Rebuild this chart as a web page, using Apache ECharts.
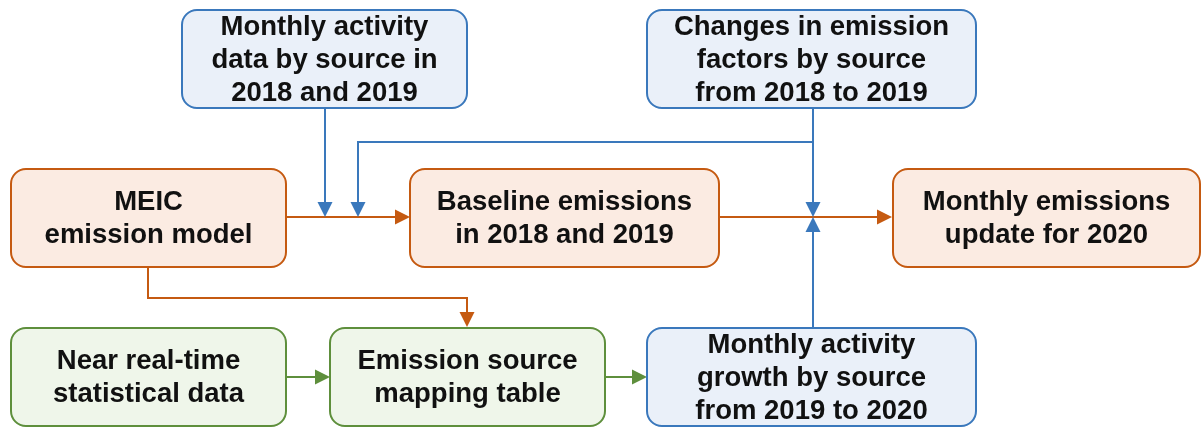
<!DOCTYPE html>
<html>
<head>
<meta charset="utf-8">
<script src="https://cdn.jsdelivr.net/npm/echarts@6/dist/echarts.min.js"></script>
<style>
html,body{margin:0;padding:0;background:#fff;}
#chart{width:1203px;height:429px;}
</style>
</head>
<body>
<div id="chart"></div>
<script>
// ---- content ----
const nodeText = [
  'Monthly activity\ndata by source in\n2018 and 2019',
  'Changes in emission\nfactors by source\nfrom 2018 to 2019',
  'MEIC\nemission model',
  'Baseline emissions\nin 2018 and 2019',
  'Monthly emissions\nupdate for 2020',
  'Near real-time\nstatistical data',
  'Emission source\nmapping table',
  'Monthly activity\ngrowth by source\nfrom 2019 to 2020'
];
const nodeKind = ['blue','blue','orange','orange','orange','green','green','blue'];
const edgeKind = ['orange','orange','orange','blue','blue','blue','blue','green','green'];

// ---- layout (diagram coordinates) ----
const nodeBox = [
  [182,10,467,108],
  [647,10,976,108],
  [11,169,286,267],
  [410,169,719,267],
  [893,169,1200,267],
  [11,328,286,426],
  [330,328,605,426],
  [647,328,976,426]
];
const edgePath = [
  [[286,217],[410,217]],
  [[719,217],[892,217]],
  [[148,267],[148,298],[467,298],[467,327]],
  [[325,108],[325,217]],
  [[813,142],[358,142],[358,217]],
  [[813,108],[813,217]],
  [[813,327],[813,217]],
  [[286,377],[330,377]],
  [[605,377],[647,377]]
];

// ---- style ----
const palette = {
  blue:   {stroke:'#3a78bc', fill:'#eaf0f9'},
  orange: {stroke:'#c55a11', fill:'#fbebe2'},
  green:  {stroke:'#5e8f3c', fill:'#eff6ea'}
};

const chart = echarts.init(document.getElementById('chart'), null, {renderer:'canvas'});

function renderNode(params, api) {
  const i = api.value(0);
  const b = nodeBox[i];
  const p0 = api.coord([b[0], b[1]]);
  const p1 = api.coord([b[2], b[3]]);
  const c = palette[nodeKind[i]];
  return {
    type:'group',
    children:[
      {type:'rect', shape:{x:p0[0], y:p0[1], width:p1[0]-p0[0], height:p1[1]-p0[1], r:15},
       style:{fill:c.fill, stroke:c.stroke, lineWidth:2}},
      {type:'text', style:{text:nodeText[i], x:(p0[0]+p1[0])/2, y:(p0[1]+p1[1])/2 + 1,
        align:'center', verticalAlign:'middle', fontSize:27.5, fontWeight:'bold',
        fontFamily:'Liberation Sans', lineHeight:33, fill:'#111'}}
    ]
  };
}

function renderEdge(params, api) {
  const i = api.value(0);
  const pts = edgePath[i].map(p => api.coord(p));
  const c = palette[edgeKind[i]].stroke;
  const n = pts.length;
  const tip = pts[n-1], prev = pts[n-2];
  const dx = tip[0]-prev[0], dy = tip[1]-prev[1];
  const len = Math.sqrt(dx*dx+dy*dy);
  const ux = dx/len, uy = dy/len;
  const L = 15, W = 7.5;
  const bx = tip[0]-ux*L, by = tip[1]-uy*L;
  const lineEnd = [tip[0]-ux*(L-2), tip[1]-uy*(L-2)];
  const linePts = pts.slice(0, n-1).concat([lineEnd]);
  return {
    type:'group',
    children:[
      {type:'polyline', shape:{points:linePts}, style:{stroke:c, lineWidth:2, fill:null}},
      {type:'polygon', shape:{points:[tip,[bx-uy*W, by+ux*W],[bx+uy*W, by-ux*W]]},
       style:{fill:c, stroke:null}}
    ]
  };
}

chart.setOption({
  animation:false,
  grid:{left:0,right:0,top:0,bottom:0},
  xAxis:{type:'value', min:0, max:1203, show:false},
  yAxis:{type:'value', min:0, max:429, inverse:true, show:false},
  series:[
    {type:'custom', coordinateSystem:'cartesian2d', renderItem:renderEdge,
     data:edgePath.map((_,i)=>[i]), z:1, silent:true},
    {type:'custom', coordinateSystem:'cartesian2d', renderItem:renderNode,
     data:nodeText.map((_,i)=>[i]), z:2, silent:true, clip:false}
  ]
});
</script>
</body>
</html>
